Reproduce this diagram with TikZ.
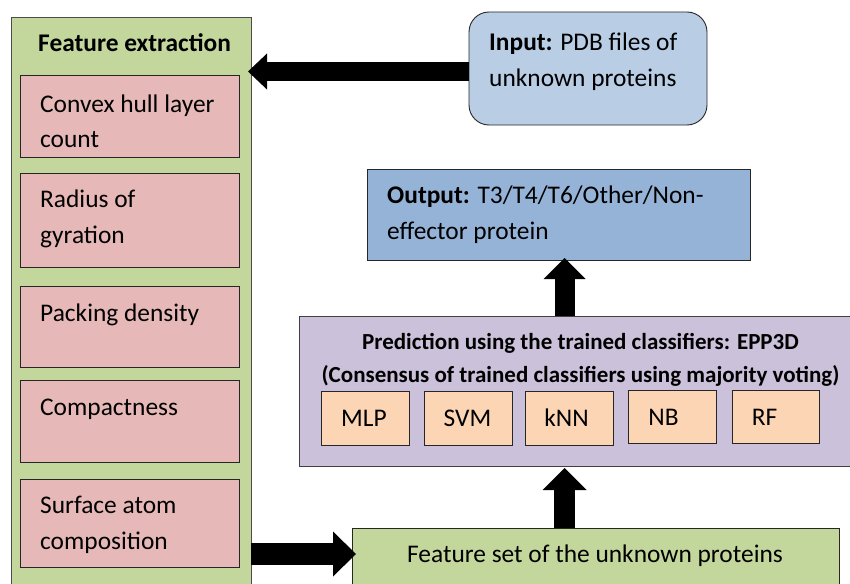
\documentclass[tikz,border=0pt]{standalone}
\usepackage{fontspec}
\setmainfont{Carlito}
\usetikzlibrary{arrows.meta}
\definecolor{leaf}{HTML}{C3D69B}
\definecolor{rose}{HTML}{E6B9B8}
\definecolor{sky}{HTML}{B9CDE5}
\definecolor{steel}{HTML}{95B3D7}
\definecolor{lilac}{HTML}{CCC1DA}
\definecolor{peach}{HTML}{FCD5B5}
\begin{document}
\begin{tikzpicture}[x=1pt,y=-1pt,
  box/.style={draw=black!85, line width=0.9pt, inner sep=0pt, outer sep=0pt, anchor=north west},
  featbox/.style={box, fill=rose},
  clsbox/.style={box, fill=peach, minimum width=88pt},
  txt/.style={inner sep=0pt, anchor=base west, font=\fontsize{25.4}{30}\selectfont},
  ctxt/.style={txt, anchor=base},
  ptxt/.style={inner sep=0pt, anchor=base, font=\fontsize{23}{28}\selectfont\bfseries},
  flow/.style={draw=black, line width=#1},
]
\useasboundingbox (0,0) rectangle (850,583);
\clip (0,0) rectangle (850,583);

% feature extraction column
\node[box, draw=black!70, fill=leaf, minimum width=240pt, minimum height=600pt] (fe) at (11,17) {};
\node[txt] (fet) at (38,52) {\bfseries Feature extraction};
\node[featbox, minimum width=219pt, minimum height=82pt] (f1) at (20,75) {};
\node[featbox, minimum width=219pt, minimum height=94pt] (f2) at (20,173) {};
\node[featbox, minimum width=219pt, minimum height=81pt] (f3) at (20,286) {};
\node[featbox, minimum width=219pt, minimum height=82pt] (f4) at (20,380) {};
\node[featbox, minimum width=219pt, minimum height=88pt] (f5) at (20,479) {};
\node[txt] (f1a) at (40,112) {Convex hull layer};
\node[txt] (f1b) at (40,147) {count};
\node[txt] (f2a) at (40,207) {Radius of};
\node[txt] (f2b) at (40,243) {gyration};
\node[txt] (f3a) at (40,321) {Packing density};
\node[txt] (f4a) at (40,415) {Compactness};
\node[txt] (f5a) at (40,513) {Surface atom};
\node[txt] (f5b) at (40,549) {composition};

% input
\node[box, fill=sky, rounded corners=20pt, minimum width=238pt, minimum height=113pt] (inp) at (469,12) {};
\node[txt] (inpa) at (489,51) {\bfseries Input:\mdseries{} PDB files of};
\node[txt] (inpb) at (489,87) {unknown proteins};

% output
\node[box, fill=steel, minimum width=383pt, minimum height=91pt] (out) at (367,169) {};
\node[txt] (outa) at (387,203) {\bfseries Output:\mdseries{} T3/T4/T6/Other/Non-};
\node[txt] (outb) at (387,239) {effector protein};

% prediction with the classifier ensemble
\node[box, draw=black!75, fill=lilac, minimum width=580pt, minimum height=150pt] (pred) at (299,316) {};
\node[ptxt] (preda) at (580.5,349) {Prediction using the trained classifiers: EPP3D};
\node[ptxt] (predb) at (580.5,382) {(Consensus of trained classifiers using majority voting)};
\node[clsbox, minimum height=54pt] (mlp) at (321,391) {};
\node[clsbox, minimum height=54pt] (svm) at (424,391) {};
\node[clsbox, minimum height=54pt] (knn) at (525,391) {};
\node[clsbox, minimum height=53pt] (nb) at (628,390) {};
\node[clsbox, minimum height=53pt, minimum width=87pt] (rf) at (732,390) {};
\node[ctxt] (mlpt) at (364,426) {MLP};
\node[ctxt] (svmt) at (467.5,426) {SVM};
\node[ctxt] (knnt) at (566.5,426) {kNN};
\node[ctxt] (nbt) at (663.5,425) {NB};
\node[ctxt] (rft) at (764.5,425) {RF};

% feature set
\node[box, fill=leaf, minimum width=487pt, minimum height=80pt] (feat) at (352,528) {};
\node[ctxt] (featt) at (595,562) {Feature set of the unknown proteins};

% block arrows
\coordinate (ax) at (564.5,0);
\coordinate (ay) at (0,554);
\draw[flow=19pt, -{Triangle[width=36pt,length=19pt,line width=0pt]}, shorten >=-3pt]
  ([yshift=-3pt]inp.west) -- ([yshift=-3pt]fe.east |- inp.west);
\draw[flow=20pt, -{Triangle[width=42pt,length=21pt,line width=0pt]}, shorten >=-2pt]
  (pred.north -| ax) -- (out.south -| ax);
\draw[flow=21pt, -{Triangle[width=44pt,length=22pt,line width=0pt]}]
  (feat.north -| ax) -- ([yshift=-2pt]pred.south -| ax);
\draw[flow=22pt, -{Triangle[width=45pt,length=23pt,line width=0pt]}, shorten >=-4pt]
  (fe.east |- ay) -- (feat.west |- ay);
\end{tikzpicture}
\end{document}
